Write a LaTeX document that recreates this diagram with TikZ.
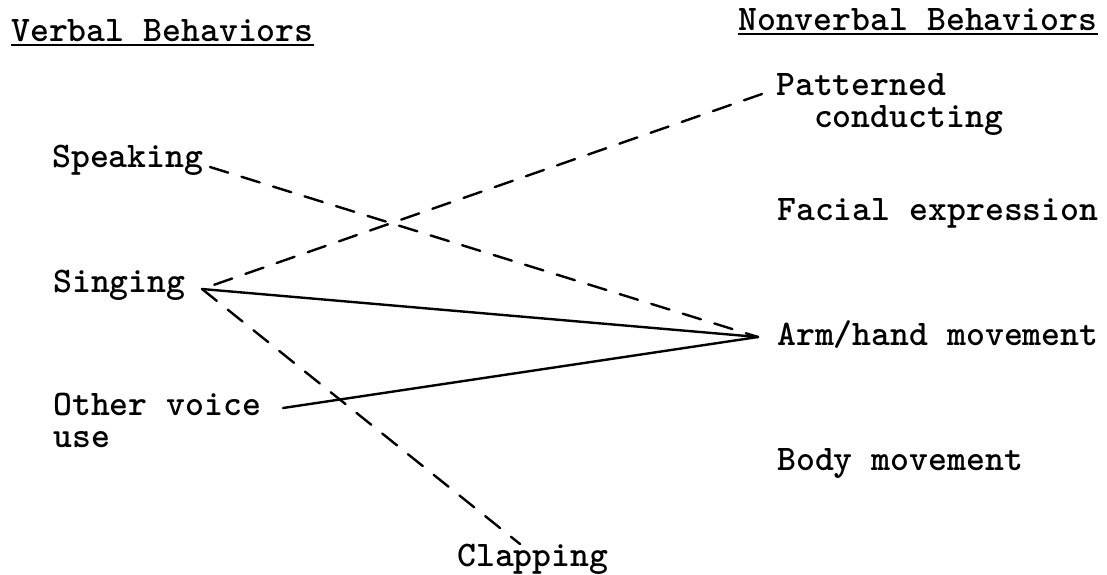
\documentclass[tikz,border=0pt]{standalone}
\usepackage{fontspec}
\tikzset{
  lbl/.style={anchor=base west, inner sep=0pt, align=left, font=\ttfamily\bfseries\fontsize{36}{31.5}\selectfont},
  hdr/.style={lbl},
  link/.style={line width=2.4pt, line cap=round},
  dlink/.style={link, dash pattern=on 19pt off 14pt}
}
\begin{document}
\begin{tikzpicture}[x=1pt,y=-1pt]
\useasboundingbox (0,0) rectangle (1107,574);
% headers
\node[hdr] (vb) at (11,41) {Verbal Behaviors};
\node[hdr] (nvb) at (738,30) {Nonverbal Behaviors};
\draw[line width=2pt] ([yshift=-4pt]vb.base west) -- ([yshift=-4pt]vb.base east);
\draw[line width=2pt] ([yshift=-4pt]nvb.base west) -- ([yshift=-4pt]nvb.base east);
% verbal
\node[lbl] (speak) at (52,167) {Speaking};
\node[lbl] (sing) at (53,292) {Singing};
\node[lbl] (other) at (53,447) {Other voice\\use};
\node[lbl] (clap) at (457,566) {Clapping};
% nonverbal
\node[lbl] (pat) at (776,127) {Patterned\\\phantom{Pa}conducting};
\node[lbl] (face) at (777,220) {Facial expression};
\node[lbl] (arm) at (777,345) {Arm/hand movement};
\node[lbl] (body) at (777,470) {Body movement};
% connector points
\coordinate (speakpt) at (210,167);
\coordinate (singpt) at (202,289);
\coordinate (otherpt) at (283,408);
\coordinate (armpt) at (758,337);
\coordinate (patpt) at (762,94);
\coordinate (clappt) at (520,544);
% connectors
\draw[dlink] (speakpt) -- (armpt);
\draw[dlink] (patpt) -- (singpt);
\draw[dlink] (singpt) -- (clappt);
\draw[link] (singpt) -- (armpt);
\draw[link] (otherpt) -- (armpt);
\end{tikzpicture}
\end{document}
